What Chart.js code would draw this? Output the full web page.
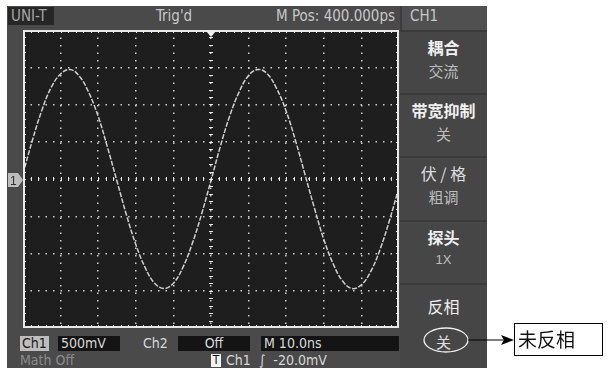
<!DOCTYPE html>
<html>
<head>
<meta charset="utf-8">
<script src="https://cdn.jsdelivr.net/npm/chart.js@4.4.1/dist/chart.umd.min.js"></script>
<style>
  body { margin: 0; background: #fff; }
  #wrap { position: relative; width: 608px; height: 368px; overflow: hidden; font-family: "Liberation Sans Narrow", "DejaVu Sans Condensed", "Liberation Sans", sans-serif; }
  .abs { position: absolute; white-space: nowrap; }
  #panel { left: 7px; top: 6px; width: 480px; height: 362px; background: #4a4a4a; }
  #screen { left: 23px; top: 30px; width: 376px; height: 298px; background: #1e1e1e; }
  .hdr { color: #c8c8c8; font-size: 15px; line-height: 18px; top: 7px; }
  .menu { left: 400px; width: 87px; background: #464646; border-top: 2px solid #3a3a3a; box-sizing: border-box; }
  .menu .t { position: absolute; left: 0; width: 100%; text-align: center; top: 3px; color: #f0f0f0; font-size: 16px; font-family: "Noto Sans CJK SC", sans-serif; font-weight: bold; }
  .menu .v { position: absolute; left: 0; width: 100%; text-align: center; top: 28px; color: #bdbdbd; font-size: 15px; font-family: "Noto Sans CJK SC", sans-serif; }
  .info { font-size: 14px; line-height: 15px; color: #d8d8d8; }
  .blk { background: #141414; }
</style>
</head>
<body>
<div id="wrap">
  <div class="abs" id="panel"></div>
  <!-- header -->
  <div class="abs hdr" style="left:8px;top:7px;width:46px;height:18px;background:#262626;color:#a8a8a8;padding-left:3px;box-sizing:border-box;">UNI-T</div>
  <div class="abs hdr" style="left:156px;">Trig'd</div>
  <div class="abs hdr" style="left:276px;">M Pos: 400.000ps</div>
  <div class="abs" style="left:400px;top:6px;width:87px;height:24px;background:#505050;border-left:2px solid #3c3c3c;box-sizing:border-box;"></div>
  <div class="abs hdr" style="left:410px;">CH1</div>

  <div class="abs" id="screen"><canvas id="scope" width="376" height="298"></canvas></div>

  <!-- right menu -->
  <div class="abs menu" style="top:30px;height:63px;"><div class="t">耦合</div><div class="v">交流</div></div>
  <div class="abs menu" style="top:93px;height:63px;"><div class="t">带宽抑制</div><div class="v">关</div></div>
  <div class="abs menu" style="top:156px;height:64px;"><div class="t" style="font-weight:normal;color:#ddd;">伏 / 格</div><div class="v">粗调</div></div>
  <div class="abs menu" style="top:220px;height:63px;"><div class="t">探头</div><div class="v" style="font-size:13px;top:30px;font-family:'Liberation Sans Narrow',sans-serif;">1X</div></div>
  <div class="abs menu" style="top:283px;height:85px;"><div class="t" style="font-weight:normal;color:#eee;top:9px;">反相</div><div class="v" style="top:46px;color:#e0e0e0;">关</div></div>

  <!-- bottom info -->
  <div class="abs info" style="left:20px;top:336px;width:29px;height:15px;background:#bdbdbd;color:#1a1a1a;padding-left:2px;box-sizing:border-box;">Ch1</div>
  <div class="abs info blk" style="left:58px;top:336px;width:62px;height:15px;padding-left:3px;box-sizing:border-box;">500mV</div>
  <div class="abs info" style="left:143px;top:336px;">Ch2</div>
  <div class="abs info blk" style="left:178px;top:336px;width:72px;height:15px;text-align:center;">Off</div>
  <div class="abs info blk" style="left:261px;top:336px;width:138px;height:15px;padding-left:3px;box-sizing:border-box;">M 10.0ns</div>
  <div class="abs info" style="left:20px;top:353px;color:#8a8a8a;">Math Off</div>
  <div class="abs info" style="left:211px;top:354px;width:10px;height:13px;background:#f2f2f2;color:#111;font-size:12px;line-height:13px;text-align:center;">T</div>
  <div class="abs info" style="left:226px;top:353px;">Ch1 &nbsp;∫ &nbsp;-20.0mV</div>

  <!-- channel marker, trigger marker, annotation -->
  <svg class="abs" style="left:0;top:0;" width="608" height="368">
    <polygon points="8,173 18,173 23,180 18,187 8,187" fill="#bdbdbd"/>
    <text x="10" y="185" font-size="12" fill="#333" font-family="Liberation Sans Narrow, sans-serif">1</text>
    <polygon points="206,31 216,31 211,37" fill="#f0f0f0"/>
    <ellipse cx="446" cy="340" rx="22" ry="12" fill="none" stroke="#f0f0f0" stroke-width="1.3"/>
    <line x1="468" y1="340" x2="506" y2="340" stroke="#000" stroke-width="1"/>
    <polygon points="514,340 501,335 504,340 501,345" fill="#000"/>
    <rect x="514.5" y="323.5" width="88" height="32" fill="#fff" stroke="#000" stroke-width="1"/>
  </svg>
  <div class="abs" style="left:518px;top:326px;font-size:19px;line-height:26px;color:#111;font-family:'Noto Sans CJK SC',sans-serif;">未反相</div>
</div>

<script>
// time axis in ns (10 ns/div, 10 divisions)
const timeNs = [0, 2.5, 5, 7.5, 10, 12.5, 15, 17.5, 20, 22.5, 25, 27.5, 30, 32.5, 35, 37.5, 40, 42.5, 45, 47.5,
  50, 52.5, 55, 57.5, 60, 62.5, 65, 67.5, 70, 72.5, 75, 77.5, 80, 82.5, 85, 87.5, 90, 92.5, 95, 97.5, 100];
// Ch1 voltage, in volts (500 mV/div)
const ch1Volts = [0.07, 0.52, 0.92, 1.23, 1.41, 1.47, 1.38, 1.16, 0.84, 0.42, -0.03, -0.48, -0.88, -1.19, -1.40, -1.47,
  -1.40, -1.19, -0.87, -0.47, -0.02, 0.44, 0.85, 1.17, 1.39, 1.47, 1.41, 1.21, 0.91, 0.51, 0.06, -0.39, -0.81,
  -1.14, -1.37, -1.47, -1.42, -1.24, -0.94, -0.55, -0.11];

// graticule: centre ticks and border ticks every 1/5 division
const graticule = {
  id: 'graticule',
  afterDraw(chart) {
    const { ctx, chartArea: a, scales } = chart;
    const cx = scales.x.getPixelForValue(50), cy = scales.y.getPixelForValue(0);
    ctx.save();
    ctx.strokeStyle = '#e8e8e8';
    ctx.lineWidth = 1;
    ctx.beginPath();
    for (let t = 0; t <= 100; t += 2) {
      const px = Math.round(scales.x.getPixelForValue(t)) + 0.5;
      ctx.moveTo(px, cy - 2); ctx.lineTo(px, cy + 2);
      ctx.moveTo(px, a.top); ctx.lineTo(px, a.top + 3);
      ctx.moveTo(px, a.bottom); ctx.lineTo(px, a.bottom - 3);
    }
    for (let v = -2; v <= 2; v += 0.1) {
      const py = Math.round(scales.y.getPixelForValue(v)) + 0.5;
      ctx.moveTo(cx - 2, py); ctx.lineTo(cx + 2, py);
      ctx.moveTo(a.left, py); ctx.lineTo(a.left + 3, py);
      ctx.moveTo(a.right, py); ctx.lineTo(a.right - 3, py);
    }
    ctx.stroke();
    ctx.lineWidth = 2;
    ctx.strokeRect(a.left + 1, a.top + 1, a.right - a.left - 2, a.bottom - a.top - 2);
    ctx.restore();
  }
};

new Chart(document.getElementById('scope'), {
  type: 'line',
  data: {
    datasets: [{
      data: timeNs.map((t, i) => ({ x: t, y: ch1Volts[i] })),
      borderColor: '#cfcfcf',
      borderWidth: 1.5,
      borderDash: [5, 1.5],
      pointRadius: 0,
      tension: 0.4,
      fill: false
    }]
  },
  options: {
    responsive: false,
    animation: false,
    layout: { padding: 0 },
    plugins: { legend: { display: false }, tooltip: { enabled: false } },
    scales: {
      x: {
        type: 'linear', min: 0, max: 100,
        ticks: { display: false, stepSize: 10 },
        grid: { color: '#d0d0d0', lineWidth: 1.5, drawTicks: false },
        border: { display: false, dash: [1.5, 6] }
      },
      y: {
        type: 'linear', min: -2, max: 2,
        ticks: { display: false, stepSize: 0.5 },
        grid: { color: '#d0d0d0', lineWidth: 1.5, drawTicks: false },
        border: { display: false, dash: [1.5, 6] }
      }
    }
  },
  plugins: [graticule]
});
</script>
</body>
</html>
